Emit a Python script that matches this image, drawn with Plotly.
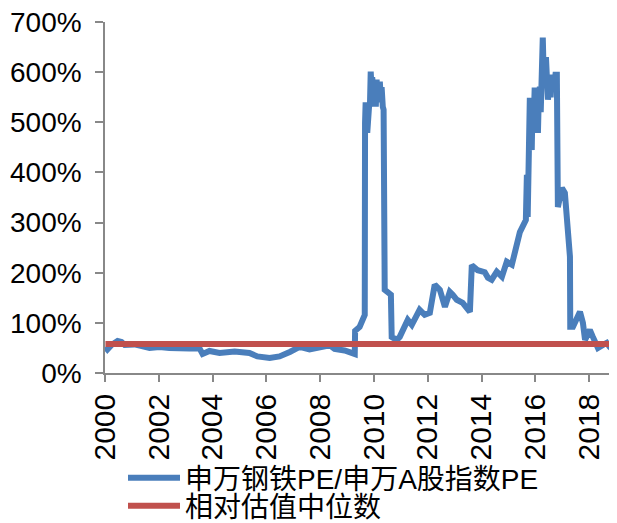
import plotly.graph_objects as go

# ---- data ----
dates = [
    "2000-01-07", "2000-02-03", "2000-03-29", "2000-06-20", "2000-08-12", "2000-09-25",
    "2001-02-05", "2001-08-28", "2002-01-10", "2002-05-25", "2003-02-20", "2003-07-08",
    "2003-08-18", "2003-11-20", "2004-04-05", "2004-10-27", "2005-05-15", "2005-09-01",
    "2006-02-15", "2006-06-28", "2006-11-15", "2007-03-28", "2007-08-10", "2007-12-25",
    "2008-05-12", "2008-07-15", "2008-11-28", "2009-04-15", "2009-04-20", "2009-06-20",
    "2009-08-29", "2009-09-02", "2009-09-10", "2009-09-16", "2009-09-24", "2009-10-02",
    "2009-10-10", "2009-10-20", "2009-10-28", "2009-11-07", "2009-11-18", "2009-11-28",
    "2009-12-08", "2009-12-18", "2009-12-28", "2010-01-08", "2010-01-18", "2010-01-26",
    "2010-02-06", "2010-02-18", "2010-03-01", "2010-03-12", "2010-03-22", "2010-04-05",
    "2010-04-15", "2010-05-01", "2010-05-12", "2010-05-27", "2010-07-06", "2010-08-19",
    "2010-08-30", "2010-11-07", "2010-12-17", "2011-01-26", "2011-04-05", "2011-05-30",
    "2011-08-22", "2011-09-13", "2011-11-21", "2012-01-30", "2012-04-05", "2012-06-14",
    "2012-08-22", "2012-10-27", "2012-12-06", "2013-01-30", "2013-04-20", "2013-07-27",
    "2013-08-22", "2013-11-10", "2014-02-14", "2014-03-29", "2014-05-19", "2014-07-27",
    "2014-10-05", "2014-12-10", "2015-02-17", "2015-03-29", "2015-06-06", "2015-08-26",
    "2015-09-09", "2015-09-20", "2015-10-08", "2015-10-19", "2015-10-28", "2015-11-14",
    "2015-11-25", "2015-12-08", "2015-12-24", "2016-01-10", "2016-01-22", "2016-02-06",
    "2016-02-18", "2016-03-03", "2016-03-15", "2016-03-28", "2016-04-12", "2016-04-25",
    "2016-05-11", "2016-05-25", "2016-06-08", "2016-06-21", "2016-07-10", "2016-07-28",
    "2016-08-15", "2016-09-10", "2016-10-01", "2016-10-20", "2016-11-03", "2016-12-28",
    "2017-02-06", "2017-03-07", "2017-04-16", "2017-04-20", "2017-05-27", "2017-08-30",
    "2017-10-09", "2017-11-07", "2018-01-11", "2018-02-21", "2018-05-01", "2018-07-09",
    "2018-08-29", "2018-10-09", "2018-12-17",
]
relative_pe = [
    0.52, 0.47, 0.56, 0.64, 0.62, 0.56,
    0.57, 0.50, 0.52, 0.50, 0.49, 0.49,
    0.38, 0.44, 0.40, 0.43, 0.40, 0.33,
    0.30, 0.33, 0.42, 0.52, 0.47, 0.52,
    0.55, 0.48, 0.45, 0.38, 0.84, 0.92,
    1.16, 4.99, 5.40, 4.85, 5.25, 4.79,
    5.10, 5.00, 5.35, 5.31, 6.01, 5.70,
    5.90, 5.50, 5.85, 5.40, 5.75, 5.31,
    5.85, 5.50, 5.80, 5.45, 5.81, 5.40,
    5.70, 5.31, 5.25, 1.66, 1.60, 1.56,
    0.72, 0.66, 0.72, 0.86, 1.06, 0.96,
    1.20, 1.26, 1.16, 1.20, 1.76, 1.66,
    1.32, 1.62, 1.56, 1.46, 1.40, 1.22,
    2.15, 2.05, 2.01, 1.90, 1.86, 2.02,
    1.92, 2.22, 2.16, 2.42, 2.81, 3.05,
    3.95, 3.11, 5.30, 5.49, 4.60, 4.45,
    5.40, 4.90, 5.69, 5.10, 4.85, 4.79,
    5.50, 5.71, 5.20, 6.20, 6.69, 5.90,
    5.79, 6.30, 5.50, 5.45, 5.70, 5.50,
    5.95, 5.70, 5.95, 5.95, 3.31, 3.69,
    3.59, 2.99, 2.32, 0.92, 0.92, 1.22,
    1.00, 0.66, 0.86, 0.72, 0.50, 0.56,
    0.60, 0.52, 0.42,
]
median_value = 0.58
median_dates = [dates[0], dates[-1]]
median_line = [median_value, median_value]

series_names = ["申万钢铁PE/申万A股指数PE", "相对估值中位数"]
y_tick_vals = [0, 1, 2, 3, 4, 5, 6, 7]
y_tick_text = ["0%", "100%", "200%", "300%", "400%", "500%", "600%", "700%"]

BLUE = "#4A7EBB"
RED = "#C0504D"
AXIS = "#888888"
FONT = "Liberation Sans, Arial, Noto Sans CJK SC, sans-serif"
LEG_FONT = dict(family="Liberation Sans, Noto Sans CJK SC, sans-serif", size=28, color="black")

# the page body has an 8px margin, so the figure is sized to fit the window
W, H = 609, 515

fig = go.Figure()
fig.add_trace(go.Scatter(
    x=dates, y=relative_pe, mode="lines", name=series_names[0],
    line=dict(color=BLUE, width=6, shape="linear"), legend="legend",
))
fig.add_trace(go.Scatter(
    x=median_dates, y=median_line, mode="lines", name=series_names[1],
    line=dict(color=RED, width=6), legend="legend2",
))

legend_common = dict(
    xref="container", yref="container", xanchor="left", yanchor="middle",
    orientation="v", font=LEG_FONT, bgcolor="rgba(0,0,0,0)", itemwidth=52,
)
fig.update_layout(
    width=W, height=H,
    margin=dict(l=97, r=0, t=14, b=150, autoexpand=False),
    paper_bgcolor="white", plot_bgcolor="white",
    font=dict(family=FONT, size=28, color="black"),
    showlegend=True,
    legend=dict(x=115 / W, y=1 - 470 / H, **legend_common),
    legend2=dict(x=115 / W, y=1 - 498 / H, **legend_common),
)
fig.update_xaxes(
    type="date",
    range=["2000-01-01", "2019-01-15"],
    tick0="2000-01-01", dtick="M24", tickformat="%Y",
    tickangle=-90,
    ticks="outside", ticklen=7, tickcolor=AXIS, tickwidth=1.5,
    showline=True, linecolor=AXIS, linewidth=1.5,
    showgrid=False, zeroline=False,
    automargin=False,
    ticklabeloverflow="allow",
    tickfont=dict(family=FONT, size=30, color="black"),
)
fig.update_yaxes(
    range=[0, 7],
    tickvals=y_tick_vals, ticktext=y_tick_text,
    ticks="outside", ticklen=8, tickcolor=AXIS, tickwidth=1.5,
    showline=True, linecolor=AXIS, linewidth=1.5,
    showgrid=False, zeroline=False,
    automargin=False,
    ticklabelstandoff=8,
    ticklabeloverflow="allow",
    tickfont=dict(family=FONT, size=28, color="black"),
)

fig.write_html("out.html")
